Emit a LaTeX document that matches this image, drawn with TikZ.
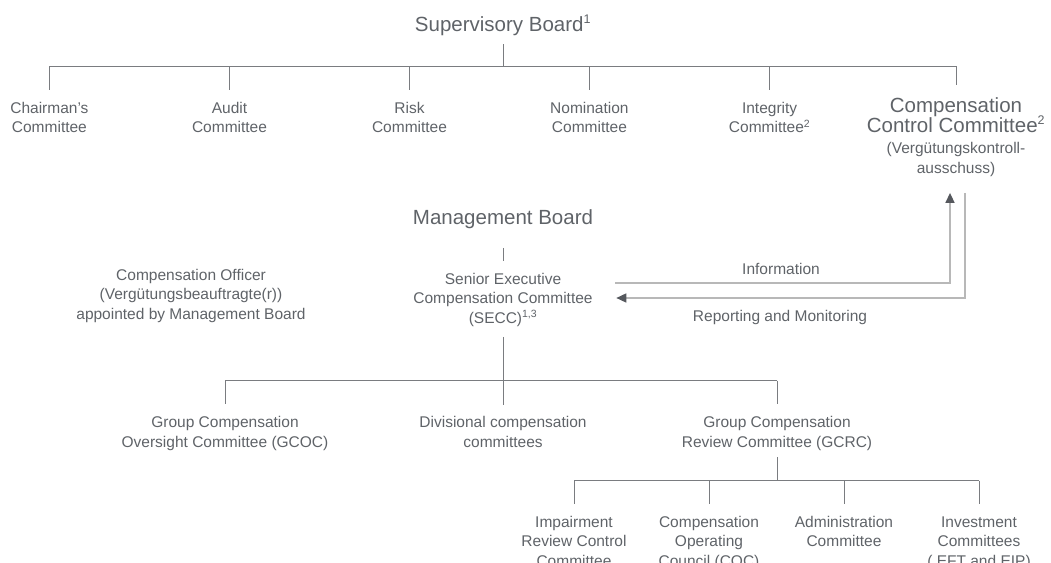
\documentclass[tikz,border=0pt]{standalone}
\usepackage{fontspec}
\setmainfont{Liberation Sans}
\usetikzlibrary{arrows.meta,calc}
\definecolor{txtgray}{HTML}{5F6368}
\definecolor{linegray}{HTML}{7A7C80}
\definecolor{flowgray}{HTML}{B8B8B8}
\definecolor{tipgray}{HTML}{55585D}
\lineskiplimit=-30pt
\newcommand{\supbig}[1]{\textsuperscript{\fontsize{12.5}{12.5}\selectfont #1}}
\newcommand{\supsmall}[1]{\textsuperscript{\fontsize{10.5}{10.5}\selectfont #1}}
\tikzset{
  cmte/.style={font=\fontsize{15.5}{19.5}\selectfont, align=center, inner sep=0pt, anchor=base, text=txtgray},
  board/.style={cmte, font=\fontsize{20.5}{20.5}\selectfont},
  tree/.style={draw=linegray, line width=1pt},
  drop/.style={tree, shorten >=12pt},
  flow/.style={draw=flowgray, line width=1.5pt, -{Triangle[length=10pt,width=9pt,color=tipgray]}}
}
\begin{document}
\begin{tikzpicture}[x=1pt, y=-1pt]
\useasboundingbox (0,0) rectangle (1051,562);
% supervisory board and its committees
\node[board] (sb) at (503,31.5) {Supervisory Board\supbig{1}};
\node[cmte] (chair) at (49.4,132.5) {Chairman’s\\Committee};
\node[cmte] (audit) at (229.5,132.5) {Audit\\Committee};
\node[cmte] (risk) at (409.5,132.5) {Risk\\Committee};
\node[cmte] (nom) at (589.4,132.5) {Nomination\\Committee};
\node[cmte] (integ) at (769.6,132.5) {Integrity\\Committee\supsmall{2}};
\node[board] (ccc) at (956,173.5) {Compensation\\Control Committee\supbig{2}\\
  \fontsize{15.5}{18.5}\selectfont (Vergütungskontroll-\\
  \fontsize{15.5}{18.5}\selectfont ausschuss)};
\coordinate (top) at (503,66);
\draw[tree] (sb.base) ++(0,12.5) -- (top);
\draw[tree] (chair.north |- top) -- (ccc.north |- top);
\foreach \n in {chair,audit,risk,nom,integ,ccc}
  \draw[drop] (\n.north |- top) -- (\n.north);
% management board
\node[board] (mb) at (503,224.5) {Management Board};
\node[cmte] (co) at (191,319) {Compensation Officer\\(Vergütungsbeauftragte(r))\\appointed by Management Board};
\node[cmte] (secc) at (503,323) {Senior Executive\\Compensation Committee\\(SECC)\supsmall{1,3}};
\draw[tree, shorten <=19pt, shorten >=11.7pt] (mb) -- (secc);
% information and reporting
\node[cmte] (info) at (781,274) {Information};
\node[cmte] (rep) at (780,321.5) {Reporting and Monitoring};
\draw[flow] ($(secc.east)+(22.5,-16.5)$) -| ($(ccc.south)+(-6,16)$);
\draw[flow] ($(ccc.south)+(9,16)$) |- ($(secc.east)+(23.5,-1.5)$);
% committees below the SECC
\node[cmte] (gcoc) at (225,447) {Group Compensation\\Oversight Committee (GCOC)};
\node[cmte] (div) at (503,447) {Divisional compensation\\committees};
\node[cmte] (gcrc) at (777,447) {Group Compensation\\Review Committee (GCRC)};
\coordinate (mid) at (503,380.7);
\draw[tree, shorten <=10.5pt, shorten >=11.5pt] (secc) -- (div);
\draw[tree] (gcoc.north |- mid) -- (gcrc.north |- mid);
\foreach \n in {gcoc,gcrc}
  \draw[drop] (\n.north |- mid) -- (\n.north);
% committees below the GCRC
\node[cmte] (irc) at (574,566) {Impairment\\Review Control\\Committee};
\node[cmte] (coc) at (709,566) {Compensation\\Operating\\Council (COC)};
\node[cmte] (adm) at (844,546.5) {Administration\\Committee};
\node[cmte] (inv) at (979,566) {Investment\\Committees\\( EFT and EIP)};
\coordinate (low) at (777,480.7);
\draw[tree, shorten <=7pt] (gcrc) -- (low);
\draw[tree] (irc.north |- low) -- (inv.north |- low);
\foreach \n in {irc,coc,adm,inv}
  \draw[drop] (\n.north |- low) -- (\n.north);
\end{tikzpicture}
\end{document}
